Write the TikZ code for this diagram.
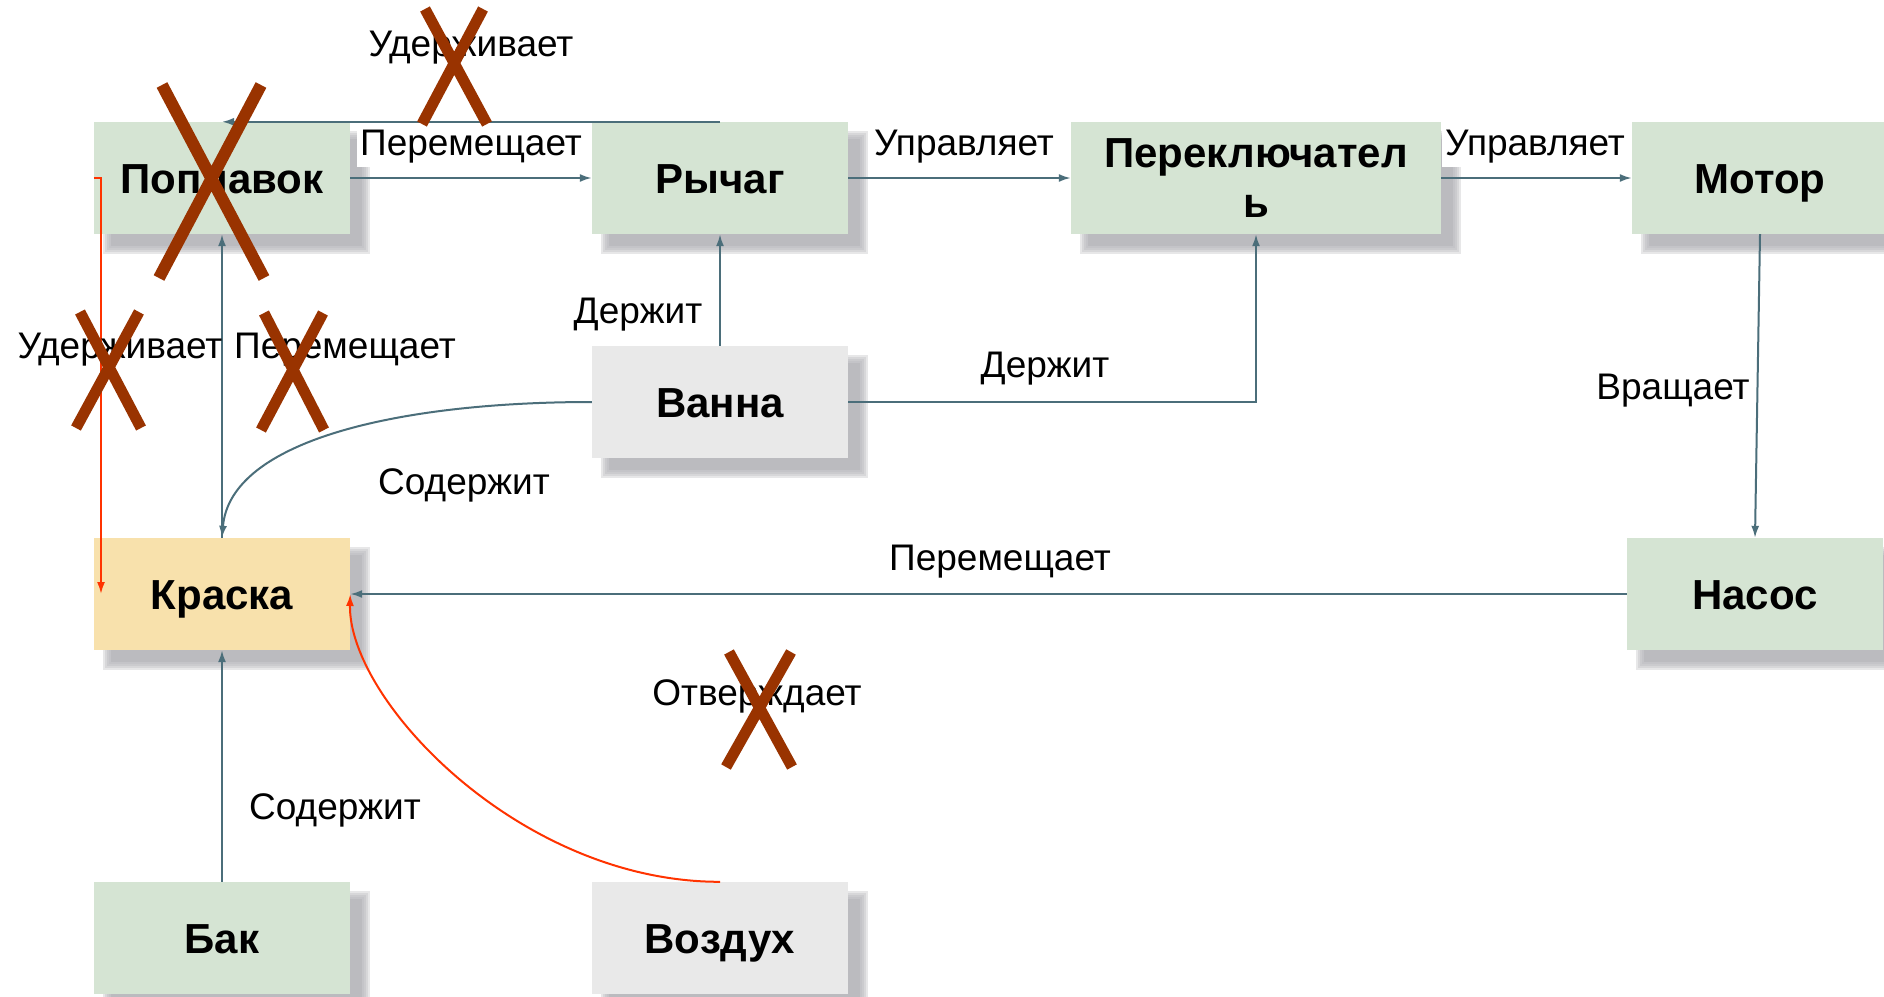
\documentclass[tikz,border=0pt]{standalone}
\usepackage{fontspec}
\setmainfont{Liberation Sans}
\usetikzlibrary{arrows.meta,calc}
\definecolor{boxgreen}{HTML}{D5E4D3}
\definecolor{boxgray}{HTML}{E9E9E9}
\definecolor{boxpeach}{HTML}{F8E1AC}
\definecolor{shadowc}{HTML}{BBBBBF}
\definecolor{edgec}{HTML}{4B6E7A}
\definecolor{redc}{HTML}{FF3300}
\definecolor{crossc}{HTML}{993300}
\pgfdeclarelayer{bglayer}
\pgfdeclarelayer{shdlayer}
\pgfsetlayers{bglayer,shdlayer,main}
\begin{document}
\begin{tikzpicture}[x=1pt,y=-1pt,
  box/.style={minimum width=256pt, minimum height=112pt, inner sep=0pt,
    font=\fontsize{42}{50}\selectfont\bfseries, align=center},
  oneline/.style={text height=30pt, text depth=0pt},
  gbox/.style={box, fill=boxgreen},
  wbox/.style={box, fill=boxgray},
  ybox/.style={box, fill=boxpeach},
  lbl/.style={font=\fontsize{37}{40}\selectfont, inner sep=3pt},
  wlbl/.style={lbl, fill=white},
  conn/.style={draw=edgec, line width=2pt, -{Latex[length=12pt,width=8pt]}},
  redconn/.style={draw=redc, line width=2pt, -{Latex[length=12pt,width=8pt]}},
  crossmark/.style={draw=crossc, line width=11pt}
]
\begin{pgfonlayer}{bglayer}
\fill[white] (0,0) rectangle (1884,996);
\end{pgfonlayer}
\useasboundingbox (0,0) rectangle (1884,996);

% nodes
\node[gbox, oneline] (pop) at (222,178) {Поплавок};
\node[gbox, oneline] (lev) at (720,178) {Рычаг};
\node[gbox, minimum width=370pt] (sw) at (1256,178) {Переключател\\ь};
\node[gbox, oneline] (mot) at (1760,178) {Мотор};
\node[wbox, oneline] (bath) at (720,402) {Ванна};
\node[ybox, oneline] (paint) at (222,594) {Краска};
\node[gbox, oneline] (pump) at (1755,594) {Насос};
\node[gbox, oneline] (tank) at (222,938) {Бак};
\node[wbox, oneline] (air) at (720,938) {Воздух};

% soft shadows
\begin{pgfonlayer}{shdlayer}
\foreach \n in {pop,lev,sw,mot,bath,paint,pump,tank,air}{
  \foreach \lo/\hi/\op in {9/20/0.35, 11/18/0.35, 13/16/0.4, 15/14/0.4, 17/12/1}{
    \fill[shadowc, opacity=\op] ($(\n.north west)+(\lo,\lo)$) rectangle ($(\n.south east)+(\hi,\hi)$);
  }
}
\end{pgfonlayer}

\coordinate (rc) at (101,178);

% connectors
\draw[conn] (pop.east) -- (lev.west);
\draw[conn] (lev.north) -- (pop.north);
\draw[conn] (lev.east) -- (sw.west);
\draw[conn] (sw.east) -- (mot.west);
\draw[conn] (bath.north) -- (lev.south);
\draw[conn] (bath.east) -| (sw.south);
\draw[conn] (bath.west) .. controls (400,402) and (230,440) .. (paint.north);
\draw[conn] (paint.north) -- (pop.south);
\draw[redconn] (pop.west) -- (rc) -- (rc |- paint.west);
\draw[conn] (mot.south) -- (pump.north);
\draw[conn] (pump.west) -- (paint.east);
\draw[conn] (tank.north) -- (paint.south);
\draw[redconn] (air.north) .. controls (520,882) and (348,700) .. (paint.east);

% labels
\node[lbl] (l1) at (471,48) {Удерживает};
\node[wlbl] (l2) at (471,147) {Перемещает};
\node[lbl] (l3) at (964,147) {Управляет};
\node[wlbl] (l4) at (1535,147) {Управляет};
\node[lbl] (l5) at (638,315) {Держит};
\node[lbl] (l6) at (1045,369) {Держит};
\node[lbl] (l7) at (120,350) {Удерживает};
\node[lbl] (l8) at (345,350) {Перемещает};
\node[lbl] (l9) at (464,485) {Содержит};
\node[lbl] (l10) at (1673,391) {Вращает};
\node[lbl] (l11) at (1000,562) {Перемещает};
\node[lbl] (l12) at (757,696) {Отверждает};
\node[lbl] (l13) at (335,810) {Содержит};

% crosses
\draw[crossmark, line width=12pt] (162,85) -- (264,278) (261,85) -- (159,278);
\draw[crossmark] (425,9) -- (487,124) (483,9) -- (422,124);
\draw[crossmark] (80,312) -- (141,428) (139,312) -- (76,428);
\draw[crossmark] (264,313) -- (324,430) (323,313) -- (261,430);
\draw[crossmark] (729,652) -- (792,767) (791,652) -- (726,767);
\end{tikzpicture}
\end{document}
